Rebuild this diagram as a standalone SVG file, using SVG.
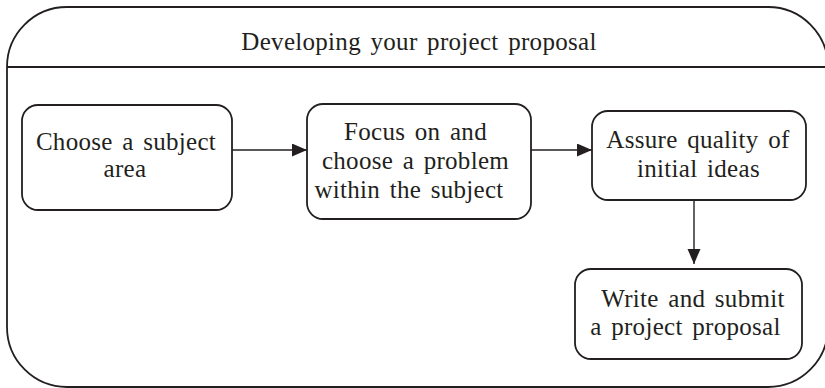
<svg xmlns="http://www.w3.org/2000/svg" width="825" height="388" viewBox="0 0 825 388">
  <style>
    .frame { fill: #ffffff; stroke: #231f20; stroke-width: 1.8; }
    .box { fill: #ffffff; stroke: #231f20; stroke-width: 1.8; }
    .conn { fill: none; stroke: #231f20; stroke-width: 1.4; }
    .t { font-family: 'Liberation Serif', 'Times New Roman', serif; font-size: 25px; fill: #231f20; text-anchor: middle; letter-spacing: 0.3px; word-spacing: 3px; }
  </style>
  <defs>
    <marker id="arrow" markerUnits="userSpaceOnUse" markerWidth="16" markerHeight="14" refX="15" refY="6.5" orient="auto">
      <path d="M0,0 L15,6.5 L0,13 Z" fill="#231f20"/>
    </marker>
  </defs>
  <rect width="825" height="388" fill="#ffffff"/>
  <g id="frame">
    <rect class="frame" x="7" y="7" width="821" height="380" rx="60" ry="60"/>
    <line class="conn" x1="7" y1="67" x2="828" y2="67" style="stroke-width:1.8"/>
    <text class="t" x="419" y="50">Developing your project proposal</text>
  </g>
  <g id="connectors">
    <line class="conn" x1="232" y1="150" x2="307" y2="150" marker-end="url(#arrow)"/>
    <line class="conn" x1="531" y1="150" x2="592" y2="150" marker-end="url(#arrow)"/>
    <line class="conn" x1="694" y1="200" x2="694" y2="264" marker-end="url(#arrow)"/>
  </g>
  <g id="node1">
    <rect class="box" x="22" y="105" width="210" height="105" rx="16" ry="16"/>
    <text class="t" x="126" y="150">Choose a subject</text>
    <text class="t" x="125" y="177">area</text>
  </g>
  <g id="node2">
    <rect class="box" x="307" y="104" width="224" height="115" rx="16" ry="16"/>
    <text class="t" x="415.5" y="140">Focus on and</text>
    <text class="t" x="415.5" y="169">choose a problem</text>
    <text class="t" x="409" y="198">within the subject</text>
  </g>
  <g id="node3">
    <rect class="box" x="592" y="111" width="214" height="89" rx="16" ry="16"/>
    <text class="t" x="698" y="148">Assure quality of</text>
    <text class="t" x="698.5" y="177">initial ideas</text>
  </g>
  <g id="node4">
    <rect class="box" x="575" y="269" width="227" height="90" rx="16" ry="16"/>
    <text class="t" x="693" y="307">Write and submit</text>
    <text class="t" x="685.5" y="335">a project proposal</text>
  </g>
</svg>
